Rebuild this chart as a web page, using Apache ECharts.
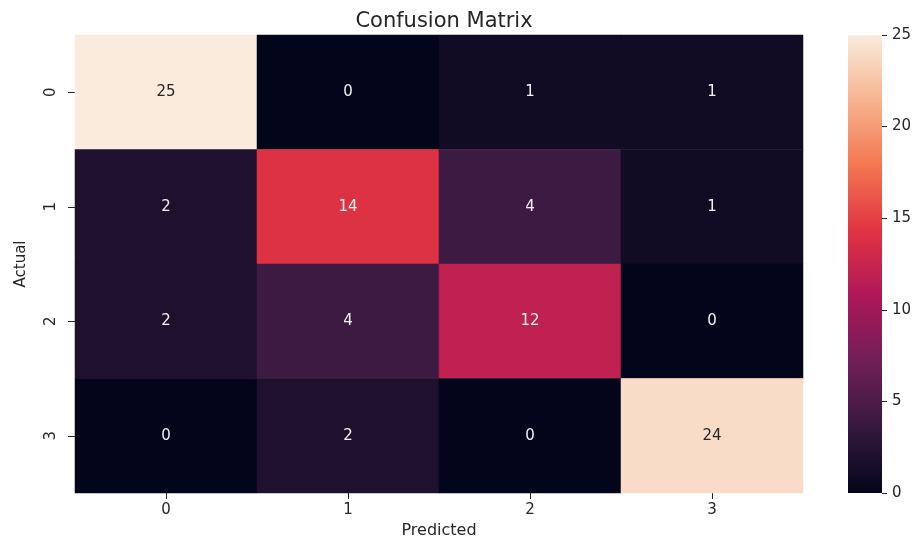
<!DOCTYPE html>
<html>
<head>
<meta charset="utf-8">
<script src="https://cdn.jsdelivr.net/npm/echarts@6/dist/echarts.min.js"></script>
<style>
  html, body { margin: 0; padding: 0; background: #fff; }
  #main { width: 924px; height: 537px; }
</style>
</head>
<body>
<div id="main"></div>
<script>
// confusion matrix values, rows = actual, columns = predicted
var predictedLabels = ['0', '1', '2', '3'];
var actualLabels = ['0', '1', '2', '3'];
var matrix = [
    [25, 0, 1, 1],
    [2, 14, 4, 1],
    [2, 4, 12, 0],
    [0, 2, 0, 24]
];
var colorbarTicks = [0, 5, 10, 15, 20, 25];

// seaborn "rocket" colormap, low -> high
var rocket = ['#03051a', '#35193e', '#701f57', '#ad1759', '#e13342', '#f37651', '#f6b48f', '#faebdd'];

var vmin = 0, vmax = 25;
var font = 'DejaVu Sans';

var cells = [];
matrix.forEach(function(row, r) {
    row.forEach(function(v, c) {
        cells.push({
            value: [c, r, v],
            label: { color: v / vmax > 0.6 ? '#262626' : '#f2f2f2' }
        });
    });
});

// gradient for the colorbar, top of bar is the high end
var barStops = rocket.map(function(col, i) {
    return { offset: 1 - i / (rocket.length - 1), color: col };
});

var chart = echarts.init(document.getElementById('main'));
var option = {
    backgroundColor: '#ffffff',
    animation: false,
    title: {
        text: 'Confusion Matrix',
        left: 439,
        textAlign: 'center',
        top: 6,
        textStyle: { fontFamily: font, fontSize: 21, fontWeight: 'normal', color: '#262626' }
    },
    grid: [
        { left: 75, right: 121, top: 35, bottom: 44, outerBoundsMode: 'none', containLabel: false },
        { left: 848, width: 34, top: 35, bottom: 44, outerBoundsMode: 'none', containLabel: false }
    ],
    xAxis: [
        {
            type: 'category',
            gridIndex: 0,
            data: predictedLabels,
            position: 'bottom',
            name: 'Predicted',
            nameLocation: 'middle',
            nameGap: 26,
            nameTextStyle: { fontFamily: font, fontSize: 16, color: '#262626' },
            axisLine: { show: false },
            axisTick: { show: true, alignWithLabel: true, length: 6, lineStyle: { color: '#262626' } },
            axisLabel: { fontFamily: font, fontSize: 15, color: '#262626', margin: 10 },
            splitLine: { show: false }
        },
        {
            type: 'category',
            gridIndex: 1,
            data: ['c'],
            show: false
        }
    ],
    yAxis: [
        {
            type: 'category',
            gridIndex: 0,
            data: actualLabels,
            inverse: true,
            name: 'Actual',
            nameLocation: 'middle',
            nameGap: 46,
            nameRotate: 90,
            nameTextStyle: { fontFamily: font, fontSize: 15, color: '#262626' },
            axisLine: { show: false },
            axisTick: { show: true, alignWithLabel: true, length: 7, lineStyle: { color: '#262626' } },
            axisLabel: { fontFamily: font, fontSize: 15, color: '#262626', rotate: 90, margin: 16 },
            splitLine: { show: false }
        },
        {
            type: 'value',
            gridIndex: 1,
            position: 'right',
            min: vmin,
            max: vmax,
            interval: 5,
            axisLine: { show: false },
            axisTick: { show: true, length: 5, lineStyle: { color: '#262626' } },
            axisLabel: {
                fontFamily: font, fontSize: 15, color: '#262626', margin: 10,
                formatter: function(v) { return colorbarTicks.indexOf(v) >= 0 ? String(v) : ''; }
            },
            splitLine: { show: false }
        }
    ],
    visualMap: {
        show: false,
        type: 'continuous',
        min: vmin,
        max: vmax,
        dimension: 2,
        seriesIndex: 0,
        inRange: { color: rocket }
    },
    series: [
        {
            type: 'heatmap',
            xAxisIndex: 0,
            yAxisIndex: 0,
            data: cells,
            label: { show: true, fontFamily: font, fontSize: 15 },
            itemStyle: { borderWidth: 0 }
        },
        {
            type: 'bar',
            xAxisIndex: 1,
            yAxisIndex: 1,
            data: [vmax],
            barWidth: '100%',
            silent: true,
            itemStyle: {
                color: new echarts.graphic.LinearGradient(0, 0, 0, 1, barStops)
            }
        }
    ]
};
chart.setOption(option);
</script>
</body>
</html>
